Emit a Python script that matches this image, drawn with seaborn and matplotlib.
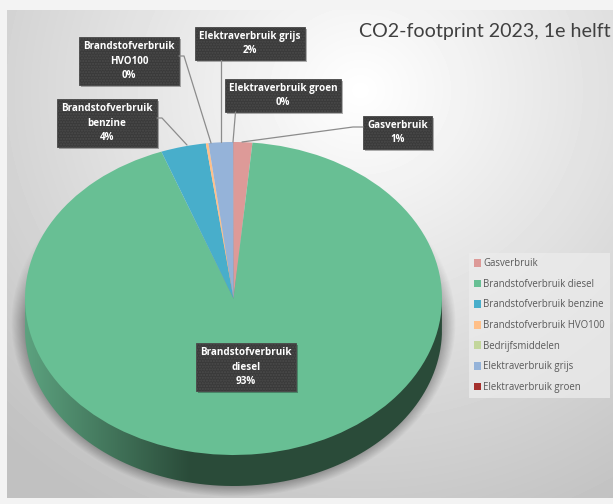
import numpy as np
import seaborn as sns
import matplotlib
matplotlib.use("Agg")
import matplotlib.pyplot as plt
from matplotlib.patches import Rectangle, PathPatch
from matplotlib.path import Path

categories = ["Gasverbruik", "Brandstofverbruik diesel", "Brandstofverbruik benzine",
              "Brandstofverbruik HVO100", "Bedrijfsmiddelen", "Elektraverbruik grijs",
              "Elektraverbruik groen"]
values = [1.45, 92.93, 3.5, 0.2, 0.0, 1.9, 0.02]
colors = ["#DD9A98", "#68BF94", "#48AECB", "#FFBF88", "#C3D69B", "#95B3D9", "#A5302D"]
label_lines = [["Gasverbruik"], ["Brandstofverbruik", "diesel"], ["Brandstofverbruik", "benzine"],
               ["Brandstofverbruik", "HVO100"], None, ["Elektraverbruik grijs"],
               ["Elektraverbruik groen"]]
title = "CO2-footprint 2023, 1e helft"

W, H = 613, 504
cx, cy, rx, ry, depth = 233.5, 298.5, 208.5, 156.5, 31

# label boxes in pixels (left, top, right, bottom) and their leader lines
boxes = [(363, 116, 432, 149), (196, 343, 296, 391), (57, 99, 157, 147),
         (79, 37, 179, 85), None, (195, 27, 305, 60), (225, 79, 341, 112)]
leaders = [[(363, 127), (353, 127), (242, 142)], None, [(157, 118), (162, 118), (187, 145)],
           [(179, 56), (184, 56), (211, 143)], None, [(221, 60), (221, 142)],
           [(235.5, 112), (233, 142)]]

sns.set_theme(style="white")
plt.rcParams["font.family"] = ["Open Sans", "DejaVu Sans"]

fig = plt.figure(figsize=(W / 100, H / 100), dpi=100)
fig.patch.set_facecolor("#f3f3f3")

# background panel, shadow and pie side
bg = fig.add_axes([0, 0, 1, 1], zorder=0)
bg.set_axis_off()
xx, yy = np.meshgrid(np.arange(W), np.arange(H))
shade = 255 - 52 * np.clip(np.hypot((xx - 360) / 430, (yy - 90) / 400), 0, 1.2)
panel = bg.imshow(shade, cmap="gray", vmin=0, vmax=255, extent=(0, W, H, 0), aspect="auto")
panel.set_clip_path(Rectangle((7, 10), W - 7, 488, transform=bg.transData))

r = np.hypot((xx + 0.5 - cx) / (rx + 14), (yy + 0.5 - cy - 24) / (ry + 18))
shadow = np.zeros((H, W, 4))
shadow[..., 3] = 0.5 * np.clip((1.0 - r) / 0.1, 0, 1)
shadow[:, :, 3] *= np.clip((yy - 200) / 120, 0, 1)
bg.imshow(shadow, extent=(0, W, H, 0), aspect="auto")

t = np.linspace(0, np.pi, 200)
side_x = np.r_[cx + rx, cx + rx * np.cos(t), cx - rx]
side_y = np.r_[cy, cy + depth + ry * np.sin(t), cy]
side_path = PathPatch(Path(np.c_[side_x, side_y]), transform=bg.transData, fc="none", ec="none")
bg.add_patch(side_path)
ramp = np.clip((np.arange(W) - 25) / 165, 0, 1)
side_rgb = np.zeros((1, W, 3))
for i, (a, b) in enumerate([(0x5C, 0x2A), (0xA2, 0x4B), (0x7F, 0x39)]):
    side_rgb[0, :, i] = (a + (b - a) * ramp) / 255
side = bg.imshow(side_rgb, extent=(0, W, H, 0), aspect="auto")
side.set_clip_path(side_path)
bg.set_xlim(0, W)
bg.set_ylim(H, 0)

# pie top: same wedges, squashed by the axes shape
ax = fig.add_axes([(cx - rx) / W, 1 - (cy + ry) / H, 2 * rx / W, 2 * ry / H], zorder=1)
wedges, _ = ax.pie(values, colors=colors, startangle=90, counterclock=False,
                   wedgeprops={"linewidth": 0})
ax.set_aspect("auto")
ax.set_xlim(-1, 1)
ax.set_ylim(-1, 1)

# overlay for labels
top = fig.add_axes([0, 0, 1, 1], zorder=2)
top.set_axis_off()
top.patch.set_alpha(0)
top.set_xlim(0, W)
top.set_ylim(H, 0)

for val, lines, box, lead in zip(values, label_lines, boxes, leaders):
    if lines is None:
        continue
    if lead:
        top.plot([p[0] for p in lead], [p[1] for p in lead], color="#8c8c8c", lw=0.9)
    x0, y0, x1, y1 = box
    top.add_patch(Rectangle((x0 + 1.5, y0 + 1.5), x1 - x0, y1 - y0, fc="#000000", alpha=0.3, lw=0))
    top.add_patch(Rectangle((x0, y0), x1 - x0, y1 - y0, fc="#3a3a3a", ec="#4b4b4b", lw=0.6,
                            hatch="......"))
    top.text((x0 + x1) / 2, (y0 + y1) / 2, "\n".join(lines + [f"{round(val)}%"]), color="white",
             fontsize=7.1, fontweight="bold", ha="center", va="center", linespacing=1.42,
             family=["Open Sans", "DejaVu Sans"])

top.text(359, 31, title, fontsize=14.1, color="#404040", va="center", ha="left",
         family=["Lato", "DejaVu Sans"])

leg = top.legend(wedges, categories, loc="upper left", bbox_to_anchor=(469 / W, 1 - 253 / H),
                 bbox_transform=fig.transFigure, frameon=True, fancybox=False, fontsize=6.9,
                 labelspacing=1.0, handlelength=0.75, handleheight=0.85, handletextpad=0.2,
                 borderpad=0.55, borderaxespad=0, labelcolor="#595959")
leg.get_frame().set_facecolor("#ececec")
leg.get_frame().set_edgecolor("none")
leg.get_frame().set_alpha(0.75)

fig.savefig("out.png", dpi=100, facecolor=fig.get_facecolor())
